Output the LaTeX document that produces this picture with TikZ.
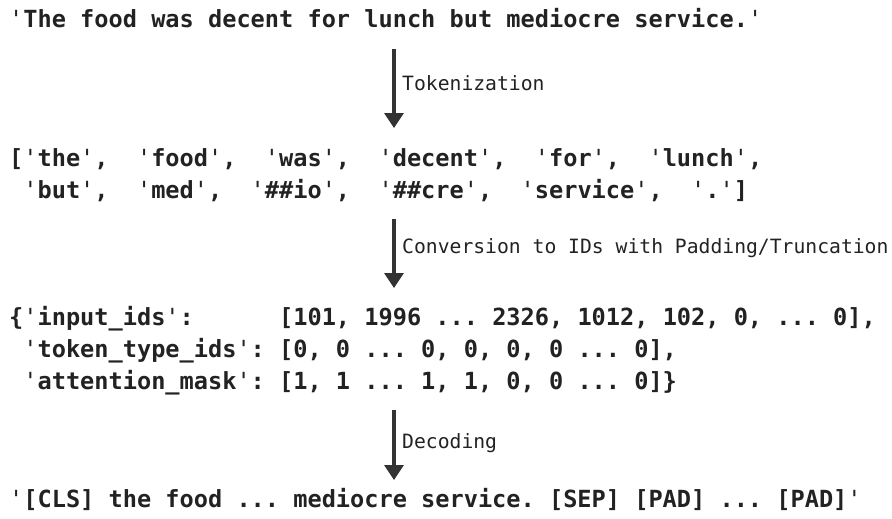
\documentclass[tikz,border=0pt]{standalone}
\usepackage{fontspec}
\usetikzlibrary{arrows.meta}
\newfontfamily\codefont{DejaVu Sans Mono}
\definecolor{codeink}{HTML}{222222}
\definecolor{arrowink}{HTML}{333333}
\newcommand{\sq}{{\mdseries'}}
\frenchspacing
\tikzset{
  codeline/.style={anchor=base west,inner sep=0pt,text=codeink,
    font=\codefont\bfseries\fontsize{23.6}{28}\selectfont},
  steplabel/.style={anchor=base west,inner sep=0pt,text=codeink,
    font=\codefont\fontsize{19.7}{24}\selectfont},
  steparrow/.style={draw=arrowink,line width=3.3pt,-{Triangle[width=19pt,length=15pt]}}
}
\begin{document}
\begin{tikzpicture}[x=1pt,y=-1pt]
\useasboundingbox (0,0) rectangle (892,519);
% text blocks
\node[codeline] (sentence) at (9,28) {\sq The food was decent for lunch but mediocre service.\sq};
\node[codeline] (tokensA) at (9,166) {[\sq the\sq,~~\sq food\sq,~~\sq was\sq,~~\sq decent\sq,~~\sq for\sq,~~\sq lunch\sq,};
\node[codeline] (tokensB) at (9,198) {~\sq but\sq,~~\sq med\sq,~~\sq\#\#io\sq,~~\sq\#\#cre\sq,~~\sq service\sq,~~\sq.\sq]};
\node[codeline] (ids) at (9,325) {\{\sq input\_ids\sq:~~~~~~[101, 1996 ... 2326, 1012, 102, 0, ... 0],};
\node[codeline] (types) at (9,357) {~\sq token\_type\_ids\sq: [0, 0 ... 0, 0, 0, 0 ... 0],};
\node[codeline] (mask) at (9,389) {~\sq attention\_mask\sq: [1, 1 ... 1, 1, 0, 0 ... 0]\}};
\node[codeline] (decoded) at (9,507) {\sq[CLS] the food ... mediocre service. [SEP] [PAD] ... [PAD]\sq};
% steps
\foreach \name/\top/\tip/\base/\txt in {
  tokenize/49/128/91/Tokenization,
  convert/219/288/253/{Conversion to IDs with Padding/Truncation},
  decode/410/480/448/Decoding
}{
  \coordinate (\name-top) at (394,\top);
  \coordinate (\name-tip) at (394,\tip);
  \draw[steparrow] (\name-top) -- (\name-tip);
  \node[steplabel] (\name) at (402,\base) {\txt};
}
\end{tikzpicture}
\end{document}
